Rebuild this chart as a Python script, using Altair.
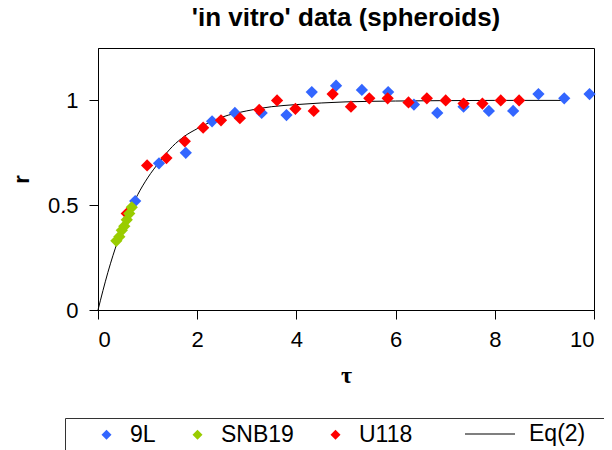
import altair as alt
import pandas as pd

# ---- data ----
tau_9L = [0.75, 1.23, 1.77, 2.30, 2.76, 3.30, 3.80, 4.31, 4.80, 5.32, 5.85, 6.37,
          6.84, 7.37, 7.88, 8.37, 8.88, 9.40, 9.91]
r_9L = [0.52, 0.70, 0.75, 0.90, 0.94, 0.94, 0.93, 1.04, 1.07, 1.05, 1.04, 0.98,
        0.94, 0.97, 0.95, 0.95, 1.03, 1.01, 1.03]

tau_U118 = [0.58, 0.99, 1.38, 1.75, 2.12, 2.48, 2.86, 3.25, 3.61, 3.98, 4.35, 4.73,
            5.10, 5.47, 5.84, 6.26, 6.63, 7.01, 7.37, 7.75, 8.12, 8.49]
r_U118 = [0.46, 0.69, 0.725, 0.805, 0.87, 0.905, 0.915, 0.955, 1.00, 0.96, 0.95, 1.03,
          0.97, 1.01, 1.01, 0.99, 1.01, 1.00, 0.985, 0.985, 1.00, 1.00]

tau_SNB19 = [0.37, 0.43, 0.48, 0.53, 0.58, 0.63, 0.68]
r_SNB19 = [0.33, 0.35, 0.38, 0.40, 0.43, 0.46, 0.49]

tau_eq = [0.0, 0.2, 0.4, 0.6, 0.8, 1.0, 1.25, 1.5, 1.75, 2.0, 2.5, 3.0, 3.5, 4.0,
          5.0, 6.0, 7.0, 8.0, 9.4]
r_eq = [0.0, 0.18, 0.33, 0.45, 0.55, 0.63, 0.71, 0.78, 0.83, 0.865, 0.92, 0.95,
        0.97, 0.98, 0.993, 0.997, 0.999, 1.0, 1.0]

point_series = ["9L", "SNB19", "U118"]
point_colors = ["#3366FF", "#99CC00", "#FF0000"]
line_series = ["Eq(2)"]
line_colors = ["#000000"]

# draw order of points: 9L below, then U118, then SNB19 on top
pts = pd.concat([
    pd.DataFrame({"tau": tau_9L, "r": r_9L, "series": "9L"}),
    pd.DataFrame({"tau": tau_U118, "r": r_U118, "series": "U118"}),
    pd.DataFrame({"tau": tau_SNB19, "r": r_SNB19, "series": "SNB19"}),
], ignore_index=True)
eq = pd.DataFrame({"tau": tau_eq, "r": r_eq, "series": "Eq(2)"})

FONT = "Liberation Sans"

x_enc = alt.X("tau:Q",
              scale=alt.Scale(domain=[0, 10], nice=False, zero=False),
              axis=alt.Axis(values=[0, 2, 4, 6, 8, 10], title="τ",
                            titleFont="Liberation Serif", titleFontSize=24,
                            titleFontWeight="bold", titlePadding=13,
                            labelFont=FONT, labelFontSize=22, labelPadding=10,
                            grid=False, tickSize=9, tickColor="black",
                            domainColor="black", labelColor="black",
                            titleColor="black"))
y_enc = alt.Y("r:Q",
              scale=alt.Scale(domain=[0, 1.25], nice=False),
              axis=alt.Axis(values=[0, 0.5, 1], title="r",
                            labelExpr="toString(datum.value)",
                            titleFont=FONT, titleFontSize=22,
                            titleFontWeight="bold", titlePadding=14,
                            labelFont=FONT, labelFontSize=22, labelPadding=11,
                            grid=False, tickSize=9, tickColor="black",
                            domainColor="black", labelColor="black",
                            titleColor="black"))

legend_pts = alt.Legend(
    title=" ", titleOrient="right", titlePadding=195, titleFontSize=2,
    orient="none", legendX=-33, legendY=370, direction="horizontal",
    strokeColor="#333333", padding=5,
    labelFont=FONT, labelFontSize=23, labelColor="black",
    symbolType="diamond", symbolSize=100, symbolStrokeWidth=0,
    symbolOffset=25, labelOffset=12, columnPadding=5,
)
legend_line = alt.Legend(
    title=None, orient="none", legendX=366, legendY=360,
    direction="horizontal", padding=0,
    labelFont=FONT, labelFontSize=23, labelColor="black",
    symbolType="stroke", symbolSize=2500, symbolStrokeWidth=1.2,
    labelOffset=13,
)

line = alt.Chart(eq).mark_line(strokeWidth=1, interpolate="monotone").encode(
    x=x_enc, y=y_enc,
    stroke=alt.Stroke("series:N",
                      scale=alt.Scale(domain=line_series, range=line_colors),
                      legend=legend_line))

points = alt.Chart(pts).mark_point(filled=True, shape="diamond", size=150,
                                   opacity=1, strokeWidth=0).encode(
    x=x_enc, y=y_enc,
    fill=alt.Fill("series:N",
                  scale=alt.Scale(domain=point_series, range=point_colors),
                  legend=legend_pts))

chart = alt.layer(line, points).resolve_legend(stroke="independent", fill="independent").properties(
    width=496, height=262,
    title=alt.Title("'in vitro' data (spheroids)", font=FONT, fontSize=26,
                    fontWeight="bold", color="black", offset=17,
                    anchor="middle"),
    autosize=alt.AutoSizeParams(type="none"),
    padding={"left": 90, "top": 40, "right": 10, "bottom": 140},
).configure_view(stroke="black", strokeWidth=1)

chart.save("out.html", embed_options={"renderer": "svg", "actions": False})
